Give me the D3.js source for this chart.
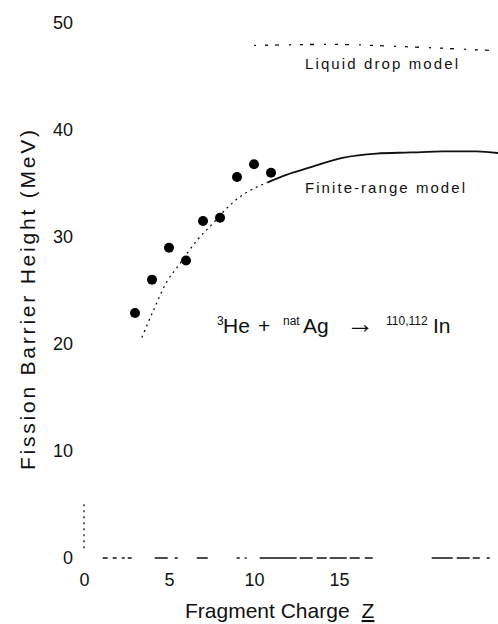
<!DOCTYPE html>
<html>
<head>
<meta charset="utf-8">
<title>Fission barrier height</title>
<script src="https://d3js.org/d3.v7.min.js"></script>
<style>
  body { margin: 0; background: #fff; }
  text { font-family: "Liberation Sans", Arial, sans-serif; fill: #111; }
</style>
</head>
<body>
<script>
// measured points
var charge  = [3, 4, 5, 6, 7, 8, 9, 10, 11];
var barrier = [22.9, 26.0, 29.0, 27.8, 31.5, 31.8, 35.6, 36.8, 36.0];

// finite-range model curve (dotted below solidFrom, solid above)
var finiteZ = [3.4, 4.1, 4.9, 5.5, 6.65, 7.6, 8.6, 9.6, 10.8, 11.9, 13.3, 15.2, 17.2, 19.2, 21.1, 23.1, 24.35];
var finiteB = [20.6, 23.2, 25.9, 27.2, 29.7, 31.3, 33.0, 34.2, 35.1, 35.8, 36.5, 37.4, 37.8, 37.9, 38.0, 38.0, 37.85];
var solidFrom = 10.8;

// liquid drop model
var liquidZ = [10, 14.6, 18.6, 24.35];
var liquidB = [47.9, 48.0, 47.8, 47.4];

var xTicks = [0, 5, 10, 15];
var yTicks = [0, 10, 20, 30, 40, 50];

var W = 498, H = 624;

var x = d3.scaleLinear().domain([0, 24.35]).range([84, 498]);
var y = d3.scaleLinear().domain([0, 50]).range([558, 23]);

var svg = d3.select("body").append("svg")
  .attr("width", W).attr("height", H)
  .style("display", "block");

// axes (labels only, lines drawn below as broken strokes like the scan)
var xa = svg.append("g")
  .attr("transform", "translate(0," + y(0) + ")")
  .call(d3.axisBottom(x).tickValues(xTicks).tickSize(0).tickPadding(15));
xa.select(".domain").remove();
xa.selectAll("text").attr("font-size", 18).attr("font-family", null).attr("fill", "#222");

var ya = svg.append("g")
  .attr("transform", "translate(" + x(0) + ",0)")
  .call(d3.axisLeft(y).tickValues(yTicks).tickSize(0).tickPadding(11));
ya.select(".domain").remove();
ya.selectAll("text").attr("font-size", 18).attr("font-family", null).attr("fill", "#222");

// broken baseline (scan has worn-out stretches)
svg.append("line")
  .attr("x1", x(1.1)).attr("x2", x(24.35))
  .attr("y1", y(0)).attr("y2", y(0))
  .attr("stroke", "#111").attr("stroke-width", 1.3)
  .attr("stroke-dasharray", "5,5,4,5,3,3,4,23,13,7,3,19,11,29,3,5,2,13,37,3,13,4,10,3,17,3,10,5,8,59,21,4,13,3,7,7,3,20");

// short dotted piece of the left axis
svg.append("line")
  .attr("x1", x(0)).attr("x2", x(0))
  .attr("y1", y(0.9)).attr("y2", y(5.2))
  .attr("stroke", "#111").attr("stroke-width", 1.3)
  .attr("stroke-dasharray", "2,4");

var line = d3.line()
  .x(function(d) { return x(d[0]); })
  .y(function(d) { return y(d[1]); })
  .curve(d3.curveMonotoneX);

var finite = finiteZ.map(function(z, i) { return [z, finiteB[i]]; });

svg.append("path")
  .datum(finite.filter(function(d) { return d[0] <= solidFrom; }))
  .attr("d", line)
  .attr("fill", "none").attr("stroke", "#111").attr("stroke-width", 1.3)
  .attr("stroke-dasharray", "2,4");

svg.append("path")
  .datum(finite.filter(function(d) { return d[0] >= solidFrom; }))
  .attr("d", line)
  .attr("fill", "none").attr("stroke", "#111").attr("stroke-width", 1.8);

svg.append("path")
  .datum(liquidZ.map(function(z, i) { return [z, liquidB[i]]; }))
  .attr("d", line)
  .attr("fill", "none").attr("stroke", "#111").attr("stroke-width", 1.3)
  .attr("stroke-dasharray", "2,9,3,7,4,10");

svg.selectAll("circle.pt")
  .data(charge)
  .enter().append("circle")
  .attr("class", "pt")
  .attr("cx", function(d) { return x(d); })
  .attr("cy", function(d, i) { return y(barrier[i]); })
  .attr("r", 5)
  .attr("fill", "#000");

// model labels
svg.append("text")
  .attr("x", 305).attr("y", 69)
  .attr("font-size", 15).attr("textLength", 153).attr("lengthAdjust", "spacing")
  .attr("fill", "#333")
  .text("Liquid drop model");

svg.append("text")
  .attr("x", 305).attr("y", 193)
  .attr("font-size", 15).attr("textLength", 160).attr("lengthAdjust", "spacing")
  .text("Finite-range model");

// reaction
var rx = svg.append("text").attr("y", 333).attr("font-size", 21);
rx.append("tspan").attr("x", 217).attr("dy", -8).attr("font-size", 12).text("3");
rx.append("tspan").attr("x", 223).attr("dy", 8).text("He");
rx.append("tspan").attr("x", 258).text("+");
rx.append("tspan").attr("x", 283).attr("dy", -8).attr("font-size", 12).text("nat");
rx.append("tspan").attr("x", 303).attr("dy", 8).text("Ag");
rx.append("tspan").attr("x", 346).attr("font-size", 28).text("→");
rx.append("tspan").attr("x", 386).attr("dy", -8).attr("font-size", 12).text("110,112");
rx.append("tspan").attr("x", 433).attr("dy", 8).text("In");

// axis titles
var xt = svg.append("text")
  .attr("x", 185).attr("y", 618)
  .attr("font-size", 21);
xt.append("tspan").text("Fragment Charge");
xt.append("tspan").attr("dx", 12).attr("text-decoration", "underline").text("Z");

svg.append("text")
  .attr("transform", "translate(35,300) rotate(-90)")
  .attr("text-anchor", "middle")
  .attr("font-size", 21)
  .attr("textLength", 340).attr("lengthAdjust", "spacing")
  .text("Fission Barrier Height  (MeV)");
</script>
</body>
</html>
